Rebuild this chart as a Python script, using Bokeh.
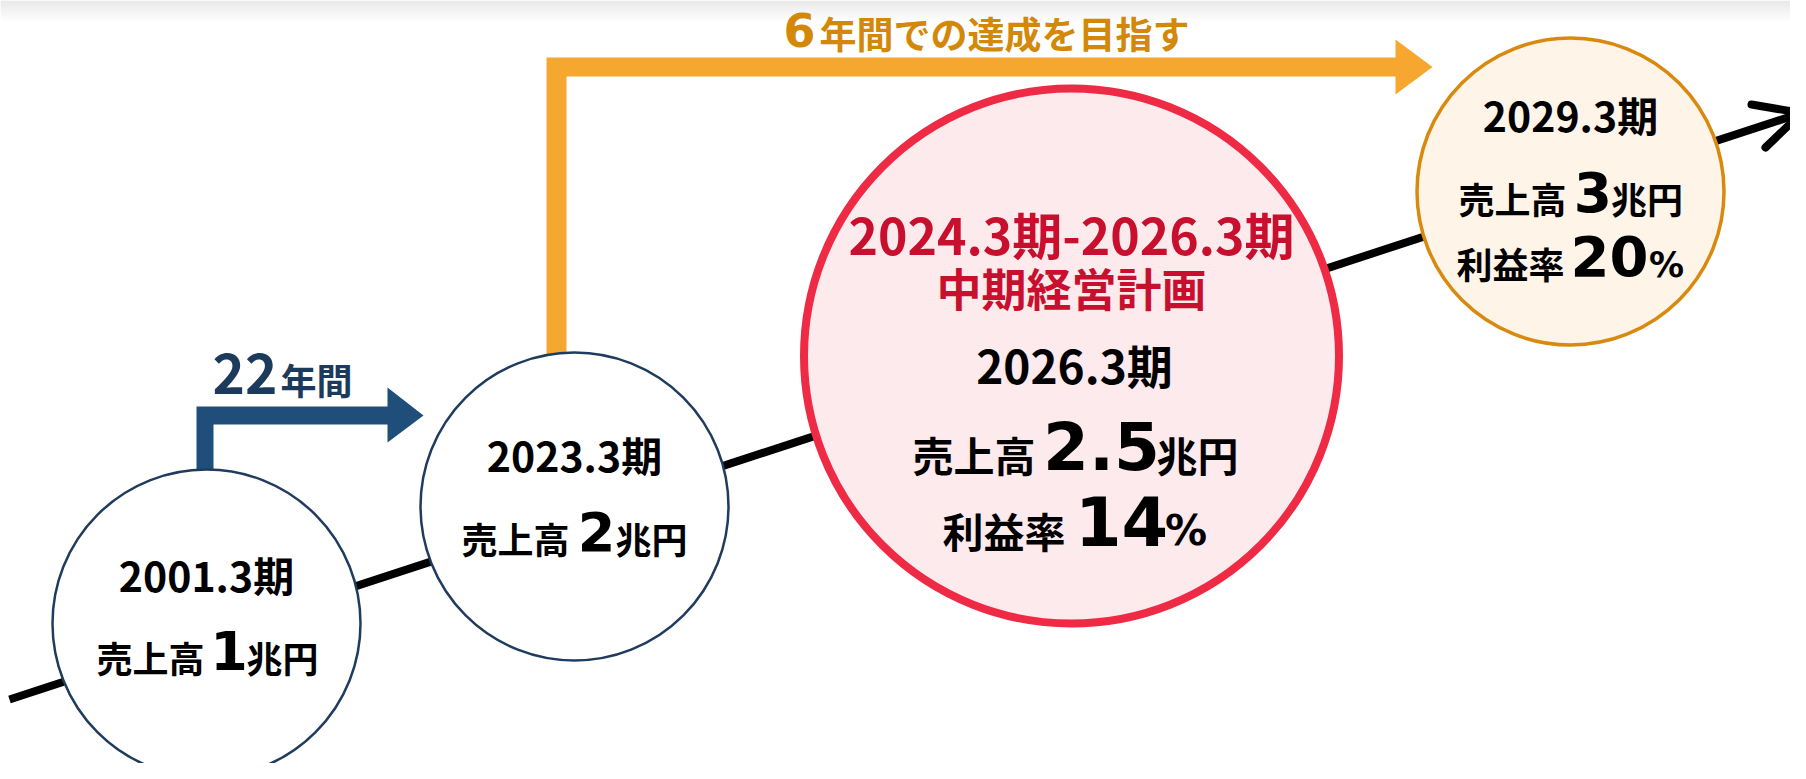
from bokeh.plotting import figure
from bokeh.models import Range1d
from bokeh.core.properties import value
from bokeh.embed import file_html
from bokeh.resources import INLINE

# ---------------- data ----------------
periods = ["2001.3期", "2023.3期", "2026.3期", "2029.3期"]
sales_trillion_yen = ["1", "2", "2.5", "3"]
profit_rate_pct = ["", "", "14", "20"]
plan_title = ["2024.3期-2026.3期", "中期経営計画"]
span_22 = ["22", "年間"]
goal_6 = ["6", "年間での達成を目指す"]
sales_label = "売上高"
sales_unit = "兆円"
profit_label = "利益率"
profit_unit = "%"

# ---------------- layout (page pixels) ----------------
W, H = 1790, 763
JP = value("Noto Sans CJK JP")
NUM = value("DejaVu Sans")
BASE_SHIFT = 0.4  # em, empirical baseline correction

p = figure(width=W, height=H, x_range=Range1d(0, W), y_range=Range1d(H, 0),
           output_backend="svg", toolbar_location=None, min_border=0,
           x_axis_location=None, y_axis_location=None)
p.grid.visible = False
p.outline_line_color = None
p.background_fill_color = "white"
p.border_fill_color = "white"

# top grey shading band
for i in range(0, 22):
    c = int(226 + (255 - 226) * i / 21)
    p.quad(left=0, right=1806, top=i, bottom=i + 1, fill_color=f"#{c:02x}{c:02x}{c:02x}", line_color=None)

# orange L-arrow (6 years)
ox = [546, 546, 1395, 1395, 1432, 1395, 1395, 566, 566]
oy = [380, 57, 57, 39, 66.5, 94, 76, 76, 380]
p.patch(ox, oy, fill_color="#F6A72F", line_color=None)

# blue L-arrow (22 years)
bx = [196, 196, 387, 387, 423, 387, 387, 213, 213]
by = [490, 406, 406, 387, 415, 442, 424, 424, 490]
p.patch(bx, by, fill_color="#1F4E7A", line_color=None)

# black trend line with open arrow head
x0, y0, x1, y1 = 9, 699, 1801, 112.5
p.line([x0, x1], [y0, y1], line_color="black", line_width=8)
p.line([1751, x1, 1765], [104, y1, 147], line_color="black", line_width=8,
       line_join="round", line_cap="round")

# circles
cx = [206, 574, 1071, 1570]
cy = [623, 506, 355.5, 191]
cr = [154, 154, 267.5, 153.5]
cfill = ["white", "white", "#FDEAED", "#FEF4E8"]
cline = ["#1F3B5E", "#1F3B5E", "#EE2A45", "#D98A0E"]
clw = [2.5, 2.5, 8, 3.5]
for i in range(4):
    p.circle(x=[cx[i]], y=[cy[i]], radius=cr[i], fill_color=cfill[i],
             line_color=cline[i], line_width=clw[i])


def txt(x, y, s, size, color="black", align="center", font=JP):
    p.text(x=[x], y=[y - BASE_SHIFT * size], text=[s], text_font=font, text_font_size=f"{size}px",
           text_font_style="bold", text_color=color, text_align=align, text_baseline="alphabetic")


# period labels
per_x = [206, 574, 1074, 1570]
per_y = [590, 470, 382, 130]
per_fs = [41, 41, 46, 41]
for i in range(4):
    txt(per_x[i], per_y[i], periods[i], per_fs[i])

# sales lines
s_base = [671, 552, 470, 212]
s_lab_r = [204, 569, 1035, 1566]
s_num_c = [228.5, 596, 1101, 1592.5]
s_unit_c = [282, 651, 1197, 1646.5]
s_lab_fs = [36, 36, 41, 36]
s_num_fs = [54, 54, 66, 55]
for i in range(4):
    txt(s_lab_r[i], s_base[i], sales_label, s_lab_fs[i], align="right")
    txt(s_num_c[i], s_base[i] + 1, sales_trillion_yen[i], s_num_fs[i], font=NUM)
    txt(s_unit_c[i], s_base[i], sales_unit, s_lab_fs[i])

# profit-rate lines
r_base = [0, 0, 546, 277]
r_lab_r = [0, 0, 1065, 1564]
r_num_c = [0, 0, 1121, 1609]
r_pct_c = [0, 0, 1185.5, 1666]
r_lab_fs = [0, 0, 41, 36]
r_num_fs = [0, 0, 67, 56]
r_pct_fs = [0, 0, 42, 35]
for i in range(4):
    if profit_rate_pct[i]:
        txt(r_lab_r[i], r_base[i], profit_label, r_lab_fs[i], align="right")
        txt(r_num_c[i], r_base[i] + 1, profit_rate_pct[i], r_num_fs[i], font=NUM)
        txt(r_pct_c[i], r_base[i] + 1, profit_unit, r_pct_fs[i], font=NUM)

# plan title (red)
txt(1071, 252, plan_title[0], 50, color="#C8102E")
txt(1071, 305, plan_title[1], 45, color="#C8102E")

# 22年間
txt(244.5, 395, span_22[0], 55, color="#1B3A5C")
txt(316, 393, span_22[1], 36, color="#1B3A5C")

# 6年間での達成を目指す
txt(799, 48, goal_6[0], 46, color="#D4880A", font=NUM)
txt(1004, 47, goal_6[1], 37, color="#D4880A")

open("out.html", "w").write(file_html(p, INLINE))
